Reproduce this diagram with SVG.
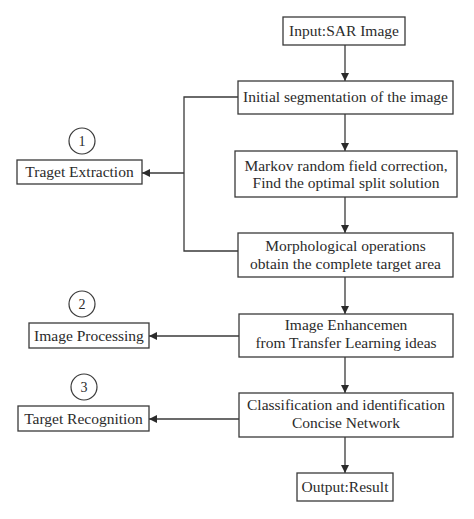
<svg xmlns="http://www.w3.org/2000/svg" width="474" height="519" viewBox="0 0 474 519">
<defs>
<marker id="ah" viewBox="0 0 10 10" refX="10" refY="5" markerWidth="8" markerHeight="8" markerUnits="userSpaceOnUse" orient="auto">
<path d="M0,0 L10,5 L0,10 z" fill="#2b2b2b"/>
</marker>
<style>
.box{fill:#fff;stroke:#3a3a3a;stroke-width:1.3}
.t{font-family:"Liberation Serif","Times New Roman",serif;font-size:15.5px;fill:#2b2b2b;text-anchor:middle}
.ln{fill:none;stroke:#3a3a3a;stroke-width:1.3}
.c{fill:#fff;stroke:#3a3a3a;stroke-width:1.2}
</style>
</defs>
<rect width="474" height="519" fill="#fff"/>
<g id="connectors">
<line class="ln" x1="345" y1="45" x2="345" y2="81" marker-end="url(#ah)"/>
<line class="ln" x1="345" y1="114" x2="345" y2="151" marker-end="url(#ah)"/>
<line class="ln" x1="345" y1="197" x2="345" y2="233" marker-end="url(#ah)"/>
<line class="ln" x1="345" y1="277" x2="345" y2="314" marker-end="url(#ah)"/>
<line class="ln" x1="345" y1="357" x2="345" y2="393" marker-end="url(#ah)"/>
<line class="ln" x1="345" y1="437" x2="345" y2="473" marker-end="url(#ah)"/>
<polyline class="ln" points="238,97 184,97 184,251 238,251"/>
<line class="ln" x1="184" y1="173" x2="142" y2="173" marker-end="url(#ah)"/>
<line class="ln" x1="239" y1="336" x2="149" y2="336" marker-end="url(#ah)"/>
<line class="ln" x1="239" y1="419" x2="149" y2="419" marker-end="url(#ah)"/>
</g>
<g id="input"><rect class="box" x="283" y="17" width="122" height="28"/><text class="t" x="344" y="36">Input:SAR Image</text></g>
<g id="initial"><rect class="box" x="238" y="81" width="215" height="33"/><text class="t" x="345.5" y="102">Initial segmentation of the image</text></g>
<g id="markov"><rect class="box" x="235" y="151" width="222" height="46"/><text class="t" x="346" y="171">Markov random field correction,</text><text class="t" x="346" y="188">Find the optimal split solution</text></g>
<g id="morph"><rect class="box" x="238" y="233" width="215" height="44"/><text class="t" x="345.5" y="251">Morphological operations</text><text class="t" x="345.5" y="269">obtain the complete target area</text></g>
<g id="enhance"><rect class="box" x="239" y="314" width="214" height="43"/><text class="t" x="346" y="330">Image Enhancemen</text><text class="t" x="346" y="348">from Transfer Learning ideas</text></g>
<g id="classify"><rect class="box" x="239" y="393" width="214" height="44"/><text class="t" x="346" y="410">Classification and identification</text><text class="t" x="346" y="428">Concise Network</text></g>
<g id="output"><rect class="box" x="297" y="473" width="96" height="28"/><text class="t" x="345" y="492">Output:Result</text></g>
<g id="extraction"><rect class="box" x="17" y="160" width="125" height="24"/><text class="t" x="79.5" y="177">Traget Extraction</text></g>
<g id="c1"><circle class="c" cx="82" cy="141" r="13"/><text class="t" x="82" y="146" style="font-size:14px">1</text></g>
<g id="processing"><rect class="box" x="29" y="323" width="120" height="25"/><text class="t" x="89" y="341">Image Processing</text></g>
<g id="c2"><circle class="c" cx="82" cy="304" r="13"/><text class="t" x="82" y="309" style="font-size:14px">2</text></g>
<g id="recognition"><rect class="box" x="18" y="406" width="131" height="25"/><text class="t" x="83.5" y="424">Target Recognition</text></g>
<g id="c3"><circle class="c" cx="84" cy="387" r="13"/><text class="t" x="84" y="392" style="font-size:14px">3</text></g>
</svg>
